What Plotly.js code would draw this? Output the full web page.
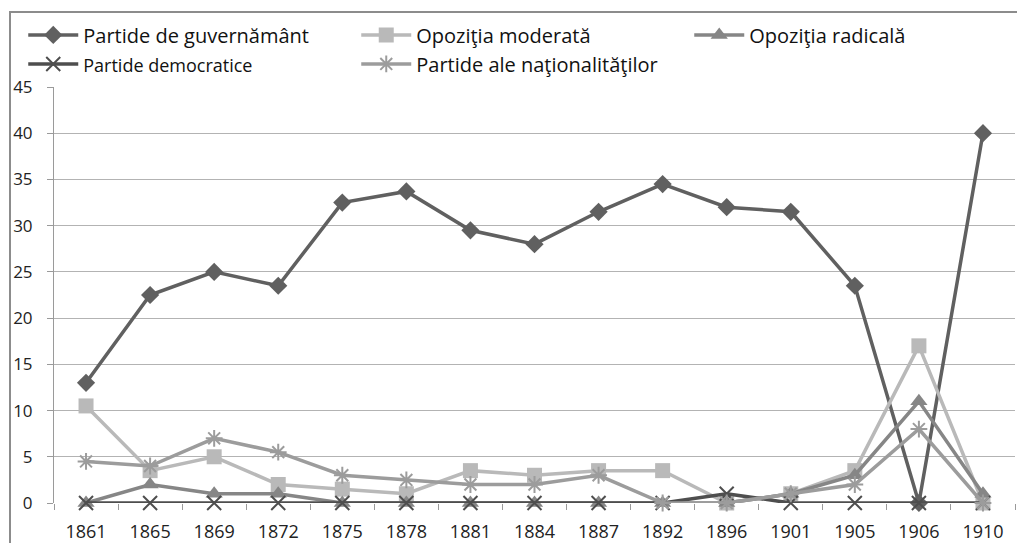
<!DOCTYPE html>
<html>
<head>
<meta charset="utf-8">
<script src="https://cdn.plot.ly/plotly-3.0.1.min.js"></script>
<style>
html,body{margin:0;padding:0;background:#fff;}
#chart{position:absolute;left:0;top:0;width:1017px;height:543px;}
#frame{position:absolute;left:9px;top:11px;width:1020px;height:540px;border-left:2px solid #8c8c8c;border-top:2px solid #8c8c8c;pointer-events:none;}
</style>
</head>
<body>
<div id="chart"></div>
<div id="frame"></div>
<script>
const years = ["1861","1865","1869","1872","1875","1878","1881","1884","1887","1892","1896","1901","1905","1906","1910"];
const guvernamant = [13, 22.5, 25, 23.5, 32.5, 33.7, 29.5, 28, 31.5, 34.5, 32, 31.5, 23.5, 0, 40];
const moderata = [10.5, 3.5, 5, 2, 1.5, 1, 3.5, 3, 3.5, 3.5, 0, 1, 3.5, 17, 0];
const radicala = [0, 2, 1, 1, 0, 0, 0, 0, 0, 0, 0, 1, 3, 11, 1];
const democratice = [0, 0, 0, 0, 0, 0, 0, 0, 0, 0, 1, 0, 0, 0, 0];
const nationalitati = [4.5, 4, 7, 5.5, 3, 2.5, 2, 2, 3, 0, 0, 1, 2, 8, 0];
const names = ["Partide de guvernământ","Opoziţia moderată","Opoziţia radicală","Partide democratice","Partide ale naţionalităţilor"];

function tr(name, y, color, symbol, size, lw, mlw){
  return {x: years, y: y, name: name, type: 'scatter', mode: 'lines+markers',
    line: {color: color, width: lw},
    marker: {symbol: symbol, size: size, color: color, line: {color: color, width: mlw}},
    cliponaxis: false};
}
const data = [
  tr(names[0], guvernamant, '#606060', 'diamond', 14, 3.5, 0),
  tr(names[1], moderata, '#b9b9b9', 'square', 15, 3.5, 0),
  tr(names[2], radicala, '#868686', 'triangle-up', 15, 3.5, 0),
  tr('<span style="font-size:18px">'+names[3]+'</span>', democratice, '#4e4e4e', 'x-thin-open', 14, 3.5, 2),
  tr(names[4], nationalitati, '#9c9c9c', 'asterisk-open', 14, 3.5, 2)
];
const layout = {
  width: 1017, height: 543,
  margin: {l: 54, r: 2, t: 87, b: 40, autoexpand: false},
  paper_bgcolor: '#ffffff', plot_bgcolor: '#ffffff',
  showlegend: true,
  legend: {orientation: 'h', x: -0.032, xref: 'paper', xanchor: 'left', y: 1.172, yref: 'paper', yanchor: 'top',
    entrywidth: 268, itemwidth: 50, tracegroupgap: 0,
    font: {family: 'Open Sans, Noto Sans, sans-serif', size: 20, color: '#111'},
    bgcolor: 'rgba(0,0,0,0)'},
  xaxis: {type: 'category', range: [-0.5, 14.5], tickson: 'boundaries', ticks: 'outside', ticklen: 6,
    tickcolor: '#9a9a9a', showgrid: false, showline: false, zeroline: false, ticklabelstandoff: 16,
    tickfont: {family: 'Open Sans, Noto Sans, sans-serif', size: 18, color: '#222'}},
  yaxis: {range: [0, 45], dtick: 5, ticks: 'outside', ticklen: 6, tickcolor: '#9a9a9a',
    showline: true, linecolor: '#9a9a9a', linewidth: 1, showgrid: true, gridcolor: '#b3b3b3', gridwidth: 1,
    zeroline: false, ticklabelstandoff: 11,
    tickfont: {family: 'Open Sans, Noto Sans, sans-serif', size: 17, color: '#222'}}
};
Plotly.newPlot('chart', data, layout, {displayModeBar: false, staticPlot: true});
</script>
</body>
</html>
